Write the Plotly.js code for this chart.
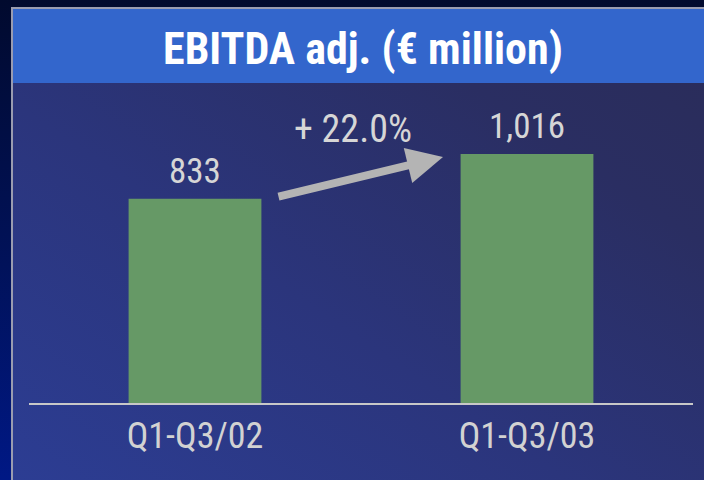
<!DOCTYPE html>
<html>
<head>
<meta charset="utf-8">
<script src="https://cdn.plot.ly/plotly-3.0.1.min.js"></script>
<style>
  html, body { margin:0; padding:0; width:704px; height:480px; overflow:hidden; }
  body { background: linear-gradient(to bottom, #010a2e 0%, #01125a 55%, #001885 100%); position:relative; }
  #panel { position:absolute; left:11px; top:7px; width:691px; height:471px;
    border-left:2px solid #9a9cb0; border-top:2px solid #9a9cb0;
    background: linear-gradient(to top right, #2c3d93 0%, #2b357c 40%, #2a2e62 75%, #2a2c58 100%); }
  #chart { position:absolute; left:0; top:0; width:704px; height:480px; }
</style>
</head>
<body>
<div id="panel"></div>
<div id="chart"></div>
<script>
const categories = ["Q1-Q3/02", "Q1-Q3/03"];
const values = [833, 1016];
const chartTitle = "EBITDA adj. (€ million)";

const growth = (values[1] / values[0] - 1) * 100;
const growthLabel = "+ " + growth.toFixed(1) + "%";

const cond = "Roboto Condensed, Liberation Sans Narrow, sans-serif";

const trace = {
  type: "bar",
  x: categories,
  y: values,
  marker: { color: "#669966", line: { width: 0 } },
  hoverinfo: "none"
};

const valueAnnotations = categories.map((c, i) => ({
  x: c, y: values[i], xref: "x", yref: "y",
  text: values[i].toLocaleString("en-US"),
  showarrow: false, yanchor: "bottom", yshift: 5,
  font: { family: cond, size: 35, color: "#d6d6d6" }
}));

const layout = {
  width: 704, height: 480,
  margin: { l: 29, r: 11, t: 90, b: 77, pad: 0 },
  paper_bgcolor: "rgba(0,0,0,0)",
  plot_bgcolor: "rgba(0,0,0,0)",
  bargap: 0.6,
  showlegend: false,
  title: {
    text: chartTitle,
    font: { family: cond, size: 44, color: "#ffffff", weight: 700 },
    x: 0.5156, xanchor: "center", xref: "container",
    y: 0.898, yanchor: "middle", yref: "container"
  },
  xaxis: {
    type: "category",
    range: [-0.5, 1.5],
    showline: true, linecolor: "#c8c8c8", linewidth: 2,
    showgrid: false, zeroline: false, ticks: "",
    tickfont: { family: cond, size: 36, color: "#d2d2d2" },
    fixedrange: true
  },
  yaxis: {
    range: [0, 1277],
    visible: false, showgrid: false, zeroline: false, fixedrange: true
  },
  shapes: [
    { type: "rect", xref: "paper", yref: "paper", layer: "below",
      x0: -0.0241, x1: 1.02, y0: 1.0224, y1: 1.2588,
      fillcolor: "#3366cc", line: { width: 0 } }
  ],
  annotations: valueAnnotations.concat([
    { xref: "paper", yref: "paper", x: 0.6235, y: 0.786,
      ax: -166, ay: 40, axref: "pixel", ayref: "pixel",
      text: "", showarrow: true, arrowhead: 2, arrowsize: 0.9,
      arrowwidth: 8, arrowcolor: "#b4b4b4", standoff: 0 },
    { xref: "paper", yref: "paper", x: 0.488, y: 0.875,
      xanchor: "center", yanchor: "middle", showarrow: false,
      text: growthLabel,
      font: { family: cond, size: 38, color: "#d6d6d6" } }
  ])
};

Plotly.newPlot("chart", [trace], layout, { displayModeBar: false, staticPlot: true });
</script>
</body>
</html>
